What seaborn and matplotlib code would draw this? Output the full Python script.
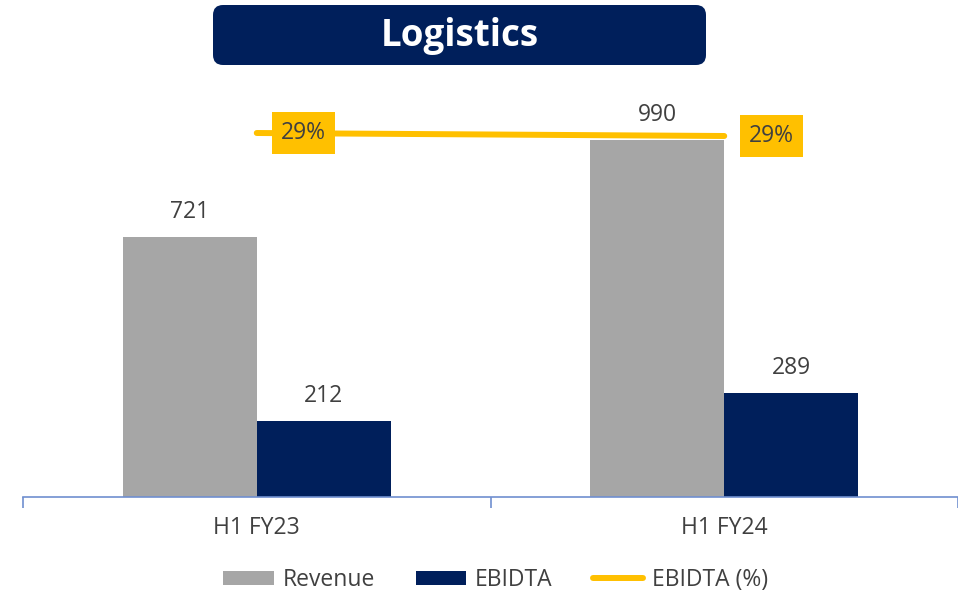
import matplotlib
matplotlib.use("Agg")
import matplotlib.pyplot as plt
import seaborn as sns
import pandas as pd
from matplotlib.patches import FancyBboxPatch, Patch
from matplotlib.lines import Line2D
from matplotlib.transforms import IdentityTransform

# ---- data ----
periods = ["H1 FY23", "H1 FY24"]
revenue = [721, 990]
ebitda = [212, 289]
ebitda_pct = [29.4, 29.2]
pct_labels = ["29%", "29%"]
series_names = ["Revenue", "EBIDTA", "EBIDTA (%)"]
title = "Logistics"

GRAY = "#A6A6A6"
NAVY = "#001F5B"
YELLOW = "#FFC000"
TXT = "#404040"
AXIS = "#6F8FCF"
FS = 16.5

sns.set_theme(style="white")
plt.rcParams["font.family"] = ["Open Sans", "DejaVu Sans"]

W, H = 958, 596
fig = plt.figure(figsize=(W / 100, H / 100), dpi=100)
left, right, bottom, top = 23, 958, 497, 90
ax = fig.add_axes([left / W, 1 - bottom / H, (right - left) / W, (bottom - top) / H])

df = pd.DataFrame({
    "period": periods * 2,
    "value": revenue + ebitda,
    "series": [series_names[0]] * len(periods) + [series_names[1]] * len(periods),
})
sns.barplot(data=df, x="period", y="value", hue="series", order=periods,
            hue_order=series_names[:2], palette=[GRAY, NAVY], width=0.574,
            gap=0, saturation=1, legend=False, ax=ax, linewidth=0)

ax.set_xlim(-0.5, 1.5)
ax.set_ylim(0, (bottom - top) / 0.3606)
ax.set_xlabel("")
ax.set_ylabel("")
ax.set_yticks([])
for s in ["top", "right", "left"]:
    ax.spines[s].set_visible(False)
ax.spines["bottom"].set_color(AXIS)
ax.spines["bottom"].set_linewidth(1.2)
ax.set_xticks([0, 1])
ax.set_xticklabels(periods, color=TXT, fontsize=FS)
ax.tick_params(axis="x", which="major", length=0, pad=14)
ax.set_xticks([-0.5, 0.5, 1.5], minor=True)
ax.tick_params(axis="x", which="minor", bottom=True, length=8, color=AXIS,
               width=1.2, direction="out")

for cont in ax.containers:
    for bar in cont:
        h = bar.get_height()
        ax.annotate(f"{h:.0f}", (bar.get_x() + bar.get_width() / 2, h),
                    xytext=(0, 25), textcoords="offset pixels",
                    ha="center", va="center", fontsize=FS, color=TXT)

# secondary axis for the percentage line
ax2 = ax.twinx()
k = 15.0
lo = 29.4 - 364 / k
ax2.set_ylim(lo, lo + (bottom - top) / k)
sns.lineplot(x=[0, 1], y=ebitda_pct, color=YELLOW, linewidth=4.3, ax=ax2,
             solid_capstyle="round")
ax2.set_xlim(-0.5, 1.5)
ax2.set_yticks([])
ax2.set_ylabel("")
for s in ax2.spines.values():
    s.set_visible(False)
for i, (v, lab) in enumerate(zip(ebitda_pct, pct_labels)):
    ax2.annotate(lab, (i, v), xytext=(47, 0), textcoords="offset pixels",
                 ha="center", va="center", fontsize=FS, color=TXT,
                 bbox=dict(boxstyle="square,pad=0.4", fc=YELLOW, ec="none"))

# title box
tb = FancyBboxPatch((213, H - 65), 493, 60, boxstyle="round,pad=0,rounding_size=10",
                    transform=IdentityTransform(), fc=NAVY, ec="none")
fig.add_artist(tb)
fig.text(459.5 / W, 1 - 36 / H, title, ha="center", va="center", color="white",
         fontsize=26.5, fontweight="bold")

handles = [Patch(facecolor=GRAY, edgecolor="none"),
           Patch(facecolor=NAVY, edgecolor="none"),
           Line2D([0], [0], color=YELLOW, linewidth=4.3, solid_capstyle="round")]
fig.legend(handles, series_names, loc="center", bbox_to_anchor=(496 / W, 1 - 580 / H),
           ncol=3, frameon=False, fontsize=FS, labelcolor=TXT, handlelength=2.2,
           handleheight=0.6, handletextpad=0.4, columnspacing=1.75)

fig.savefig("out.png", dpi=100)
